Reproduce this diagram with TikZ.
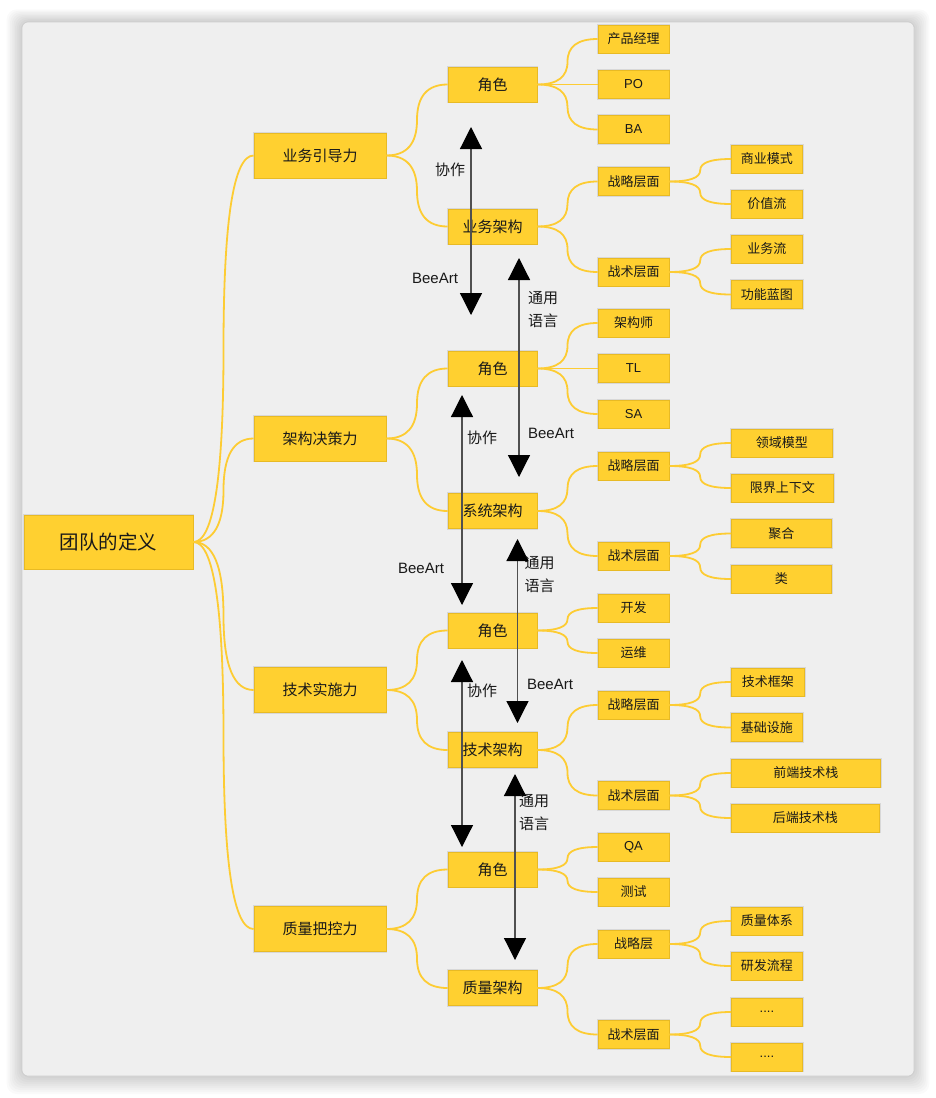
\documentclass[tikz,border=0pt]{standalone}
\usepackage{fontspec}
\setmainfont{Liberation Sans}
\newfontfamily\cjk{Noto Sans CJK SC}
\usetikzlibrary{calc,arrows.meta}
\definecolor{nodefill}{RGB}{255,208,48}
\definecolor{nodeedge}{RGB}{232,186,36}
\definecolor{halo}{RGB}{216,216,216}
\definecolor{linkc}{RGB}{253,204,51}
\definecolor{panel}{RGB}{239,239,239}
\definecolor{panelline}{RGB}{205,205,205}
\definecolor{shaft}{RGB}{80,80,80}
\definecolor{txt}{RGB}{25,25,25}
\tikzset{
  box/.style={rectangle, fill=nodefill, draw=nodeedge, line width=0.8pt,
    preaction={draw=halo, line width=2.8pt}, inner sep=0pt, text=txt},
  rootbox/.style={box, minimum width=169pt, minimum height=54pt, font=\cjk\fontsize{19.5}{22}\selectfont},
  lone/.style={box, minimum width=132pt, minimum height=45pt, font=\cjk\fontsize{15}{18}\selectfont},
  ltwo/.style={box, minimum width=89pt, minimum height=35pt, font=\cjk\fontsize{15}{18}\selectfont},
  lthree/.style={box, minimum width=71pt, minimum height=28pt, font=\cjk\fontsize{13}{15}\selectfont},
  lfour/.style={lthree, anchor=west},
  lat/.style={font=\fontsize{13}{15}\selectfont},
  link/.style={draw=linkc, line width=1.8pt, to path={
    let \p1=(\tikztostart), \p2=(\tikztotarget),
        \n1={0.5*(\x1+\x2)}, \n2={0.5*(\y1+\y2)} in
    .. controls ({(\x1+2*\n1)/3},\y1) and (\n1,{(\n2+2*\y1)/3}) .. (\n1,\n2)
    .. controls (\n1,{(\n2+2*\y2)/3}) and ({(\x2+2*\n1)/3},\y2) .. (\p2)}},
  biarrow/.style={draw=shaft, line width=1.2pt,
    {Triangle[width=22pt,length=22pt,color=black]}-{Triangle[width=22pt,length=22pt,color=black]}},
  lab/.style={font=\cjk\fontsize{15}{23}\selectfont, text=txt, inner sep=0pt, align=center},
  blab/.style={font=\fontsize{15}{18}\selectfont, text=txt, inner sep=0pt}
}
\begin{document}
\begin{tikzpicture}[x=1pt,y=-1pt]
\useasboundingbox (0,0) rectangle (936,1098);
\fill[white] (0,0) rectangle (936,1098);
% panel with shadow
\foreach \i in {1,...,9}{
  \fill[black, opacity=0.018, rounded corners=10pt] ({22-1.7*\i},{22-1.4*\i}) rectangle ({914+1.7*\i},{1076+2*\i});
}
\filldraw[fill=panel, draw=panelline, line width=0.6pt, rounded corners=6pt] (22,22) rectangle (914,1076);

% root
\node[rootbox] (r) at (108.5,542) {团队的定义};
% level 1
\node[lone] (a1) at (320,155.5) {业务引导力};
\node[lone] (a2) at (320,438.5) {架构决策力};
\node[lone] (a3) at (320,690) {技术实施力};
\node[lone] (a4) at (320,929) {质量把控力};
% level 2
\node[ltwo] (b1) at (492.5,84.5) {角色};
\node[ltwo] (b2) at (492.5,226.5) {业务架构};
\node[ltwo] (b3) at (492.5,368.5) {角色};
\node[ltwo] (b4) at (492.5,511) {系统架构};
\node[ltwo] (b5) at (492.5,630.5) {角色};
\node[ltwo] (b6) at (492.5,750) {技术架构};
\node[ltwo] (b7) at (492.5,869.5) {角色};
\node[ltwo] (b8) at (492.5,988) {质量架构};
% level 3
\node[lthree] (c1) at (633.5,39) {产品经理};
\node[lthree,lat] (c2) at (633.5,84.5) {PO};
\node[lthree,lat] (c3) at (633.5,129.5) {BA};
\node[lthree] (c4) at (633.5,181.5) {战略层面};
\node[lthree] (c5) at (633.5,272) {战术层面};
\node[lthree] (c6) at (633.5,323) {架构师};
\node[lthree,lat] (c7) at (633.5,368.5) {TL};
\node[lthree,lat] (c8) at (633.5,414) {SA};
\node[lthree] (c9) at (633.5,466) {战略层面};
\node[lthree] (c10) at (633.5,556) {战术层面};
\node[lthree] (c11) at (633.5,608) {开发};
\node[lthree] (c12) at (633.5,653) {运维};
\node[lthree] (c13) at (633.5,705) {战略层面};
\node[lthree] (c14) at (633.5,795.5) {战术层面};
\node[lthree,lat] (c15) at (633.5,847) {QA};
\node[lthree] (c16) at (633.5,892) {测试};
\node[lthree] (c17) at (633.5,944) {战略层};
\node[lthree] (c18) at (633.5,1034.5) {战术层面};
% level 4
\node[lfour] (d1) at (731,159) {商业模式};
\node[lfour] (d2) at (731,204) {价值流};
\node[lfour] (d3) at (731,249) {业务流};
\node[lfour] (d4) at (731,294.5) {功能蓝图};
\node[lfour, minimum width=101pt] (d5) at (731,443) {领域模型};
\node[lfour, minimum width=102pt] (d6) at (731,488) {限界上下文};
\node[lfour, minimum width=100pt] (d7) at (731,533.5) {聚合};
\node[lfour, minimum width=100pt] (d8) at (731,579) {类};
\node[lfour, minimum width=73pt] (d9) at (731,682) {技术框架};
\node[lfour] (d10) at (731,727.5) {基础设施};
\node[lfour, minimum width=149pt] (d11) at (731,773) {前端技术栈};
\node[lfour, minimum width=148pt] (d12) at (731,818) {后端技术栈};
\node[lfour] (d13) at (731,921) {质量体系};
\node[lfour] (d14) at (731,966) {研发流程};
\node[lfour,lat] (d15) at (731,1012) {....};
\node[lfour,lat] (d16) at (731,1057) {....};

% connectors
\foreach \t in {a1,a2,a3,a4} \draw[link] (r.east) to (\t.west);
\draw[link] (a1.east) to (b1.west); \draw[link] (a1.east) to (b2.west);
\draw[link] (a2.east) to (b3.west); \draw[link] (a2.east) to (b4.west);
\draw[link] (a3.east) to (b5.west); \draw[link] (a3.east) to (b6.west);
\draw[link] (a4.east) to (b7.west); \draw[link] (a4.east) to (b8.west);
\foreach \t in {c1,c2,c3} \draw[link] (b1.east) to (\t.west);
\foreach \t in {c4,c5} \draw[link] (b2.east) to (\t.west);
\foreach \t in {c6,c7,c8} \draw[link] (b3.east) to (\t.west);
\foreach \t in {c9,c10} \draw[link] (b4.east) to (\t.west);
\foreach \t in {c11,c12} \draw[link] (b5.east) to (\t.west);
\foreach \t in {c13,c14} \draw[link] (b6.east) to (\t.west);
\foreach \t in {c15,c16} \draw[link] (b7.east) to (\t.west);
\foreach \t in {c17,c18} \draw[link] (b8.east) to (\t.west);
\foreach \t in {d1,d2} \draw[link] (c4.east) to (\t.west);
\foreach \t in {d3,d4} \draw[link] (c5.east) to (\t.west);
\foreach \t in {d5,d6} \draw[link] (c9.east) to (\t.west);
\foreach \t in {d7,d8} \draw[link] (c10.east) to (\t.west);
\foreach \t in {d9,d10} \draw[link] (c13.east) to (\t.west);
\foreach \t in {d11,d12} \draw[link] (c14.east) to (\t.west);
\foreach \t in {d13,d14} \draw[link] (c17.east) to (\t.west);
\foreach \t in {d15,d16} \draw[link] (c18.east) to (\t.west);

% double arrows
\coordinate (p1t) at (471,127);   \coordinate (p1b) at (471,315);
\coordinate (p2t) at (519,258);   \coordinate (p2b) at (519,477);
\coordinate (p3t) at (462,395);   \coordinate (p3b) at (462,605);
\coordinate (p4t) at (517.5,539); \coordinate (p4b) at (517.5,723);
\coordinate (p5t) at (462,660);   \coordinate (p5b) at (462,847);
\coordinate (p6t) at (515,774);   \coordinate (p6b) at (515,960);
\foreach \k in {1,...,6} \draw[biarrow] (p\k t) -- (p\k b);

% labels
\node[lab] (x1) at (450,170) {协作};
\node[blab] (y1) at (435,278) {BeeArt};
\node[lab] (z1) at (543,309.5) {通用\\语言};
\node[blab] (y2) at (551,433) {BeeArt};
\node[lab] (x2) at (482,438) {协作};
\node[blab] (y3) at (421,568) {BeeArt};
\node[lab] (z2) at (539.5,574.5) {通用\\语言};
\node[blab] (y4) at (550,684) {BeeArt};
\node[lab] (x3) at (482,690.5) {协作};
\node[lab] (z3) at (534,812.5) {通用\\语言};
\end{tikzpicture}
\end{document}
